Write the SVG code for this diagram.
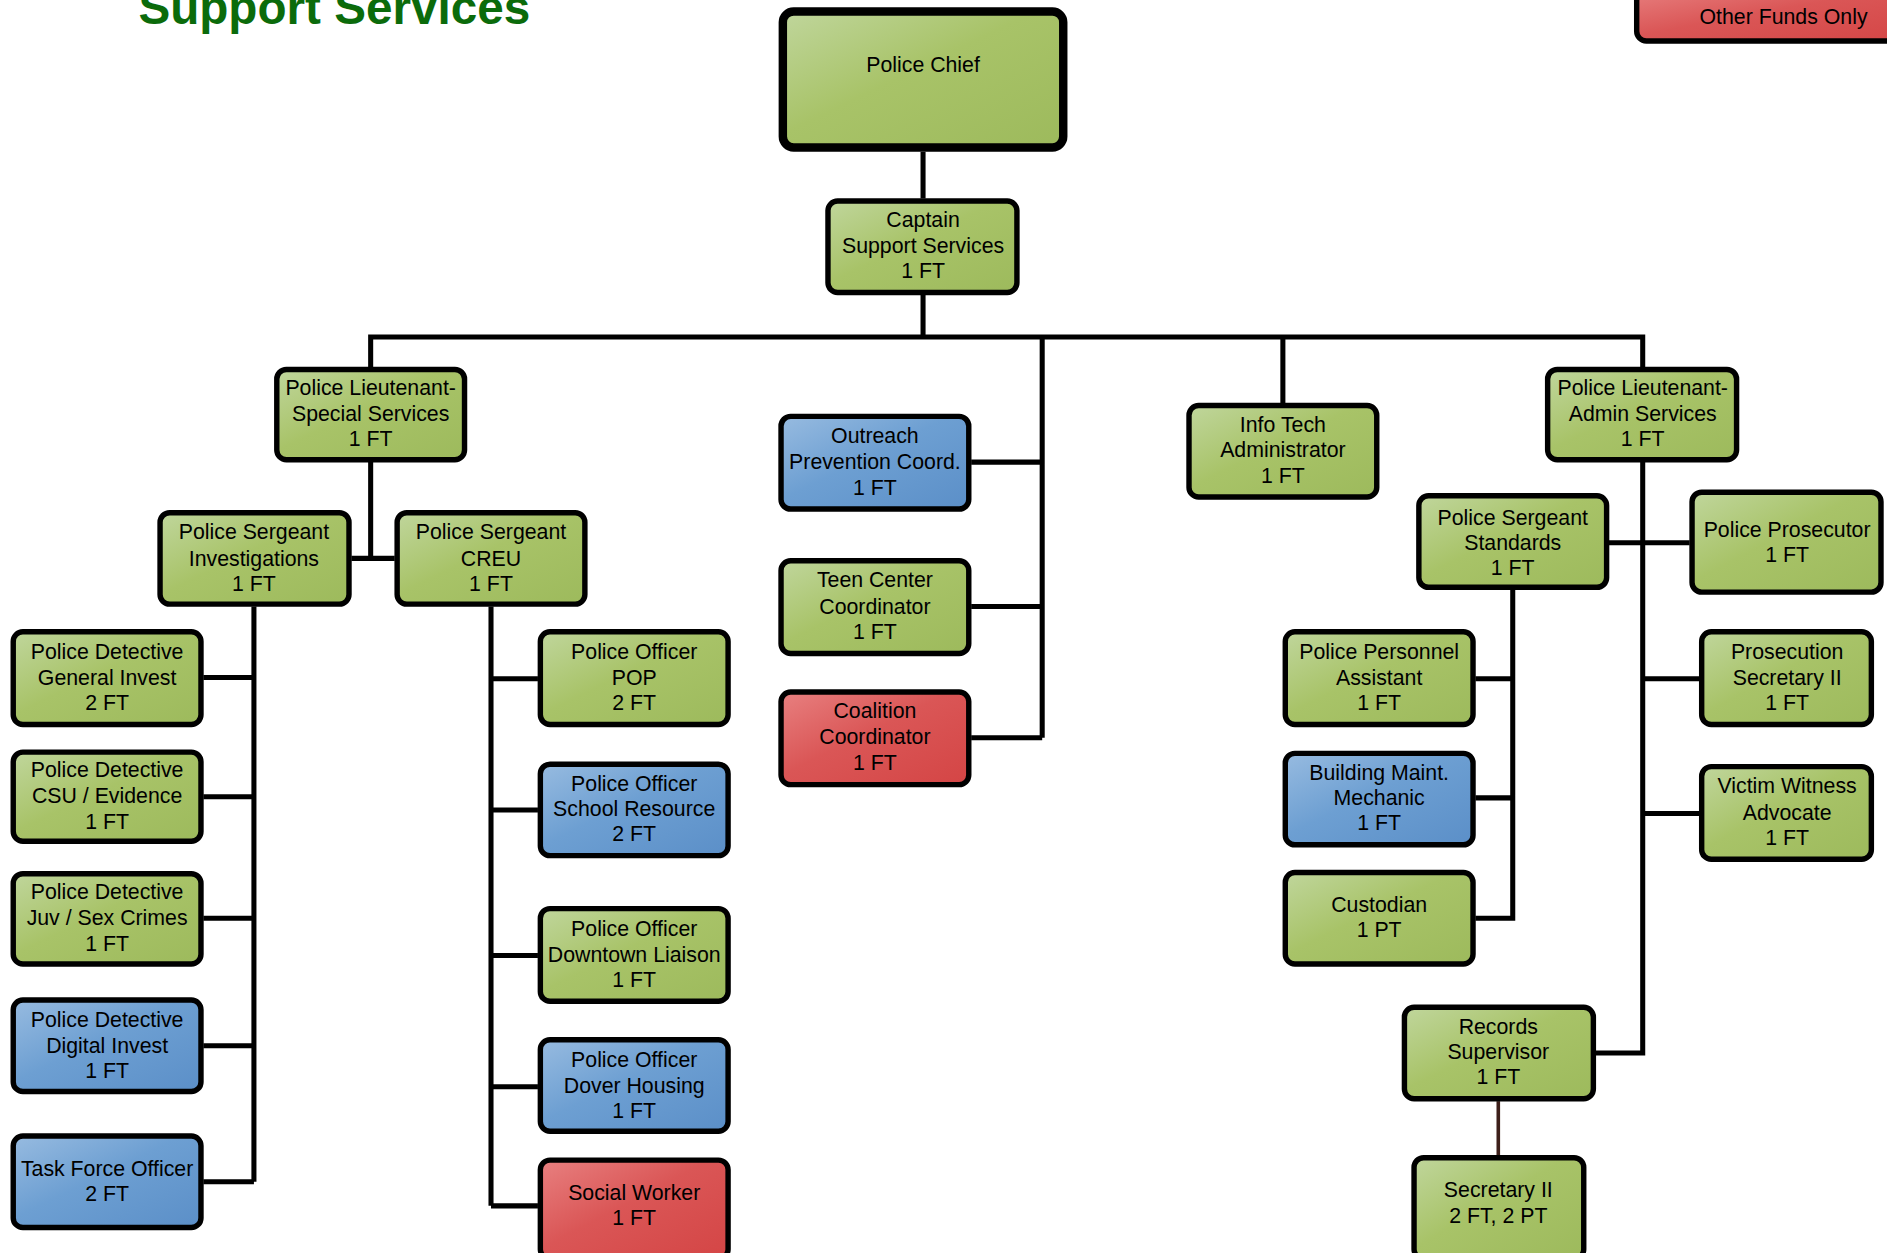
<svg xmlns="http://www.w3.org/2000/svg" width="1887" height="1253" viewBox="0 0 1887 1253">
<defs>
<linearGradient id="gG" x1="0" y1="0" x2="1" y2="1"><stop offset="0" stop-color="#c0d69c"/><stop offset="0.45" stop-color="#a8c368"/><stop offset="1" stop-color="#9dba5c"/></linearGradient>
<linearGradient id="gB" x1="0" y1="0" x2="1" y2="1"><stop offset="0" stop-color="#97bbe0"/><stop offset="0.45" stop-color="#6d9fd2"/><stop offset="1" stop-color="#5b8fc8"/></linearGradient>
<linearGradient id="gR" x1="0" y1="0" x2="1" y2="1"><stop offset="0" stop-color="#e88080"/><stop offset="0.45" stop-color="#da5656"/><stop offset="1" stop-color="#d44545"/></linearGradient>
<style>
.n{stroke:#000;stroke-width:4.5}
.g{fill:url(#gG)}
.b{fill:url(#gB)}
.r{fill:url(#gR)}
.t{font-family:"Liberation Sans",Arial,sans-serif;font-size:17.7px;fill:#000;text-anchor:middle}
.c{fill:none;stroke:#000;stroke-width:4.2}
</style>
</defs>
<rect width="1887" height="1253" fill="#fff"/>
<g transform="scale(1.20345)">
<text x="115" y="20" style="font-family:'Liberation Sans',Arial,sans-serif;font-size:39.6px;font-weight:bold;fill:#0b6b0b">Support Services</text>
<g id="connectors">
<path class="c" d="M767 126V165M767 245V280M308 305V280H1365V305M866 280V613M807 384H866M807 504H866M807 613H866M1066 280V335"/>
<path class="c" d="M308 384V464M292 464H328"/>
<path class="c" d="M211 504V982M169 563H211M169 662H211M169 763H211M169 869H211M169 982H211"/>
<path class="c" d="M408 504V1002M408 564H447M408 673H447M408 794H447M408 903H447M408 1002H447"/>
<path class="c" d="M1365 384V875H1326M1337 451H1404M1365 564H1412M1365 676H1412"/>
<path class="c" d="M1257 490V763H1226M1226 564H1257M1226 663H1257"/>
<path d="M1245 915V960" fill="none" stroke="#3d1f1a" stroke-width="3"/>
</g>
<g id="legend"><rect class="n r" x="1360" y="-10" width="240" height="44" rx="8"/><text class="t" x="1482" y="20">Other Funds Only</text></g>
<g id="chief"><rect class="g" x="650.5" y="9.5" width="233" height="113" rx="9" stroke="#000" stroke-width="7"/><text class="t" x="767" y="60">Police Chief</text></g>
<g id="captain"><rect class="n g" x="688" y="167" width="157" height="76" rx="8"/><text class="t" x="767" y="189">Captain</text><text class="t" x="767" y="210">Support Services</text><text class="t" x="767" y="231">1 FT</text></g>
<g id="lt-special"><rect class="n g" x="230" y="307" width="156" height="75" rx="8"/><text class="t" x="308" y="328">Police Lieutenant-</text><text class="t" x="308" y="350">Special Services</text><text class="t" x="308" y="371">1 FT</text></g>
<g id="outreach"><rect class="n b" x="649" y="346" width="156" height="77" rx="8"/><text class="t" x="727" y="368">Outreach</text><text class="t" x="727" y="390">Prevention Coord.</text><text class="t" x="727" y="411">1 FT</text></g>
<g id="teen"><rect class="n g" x="649" y="466" width="156" height="77" rx="8"/><text class="t" x="727" y="488">Teen Center</text><text class="t" x="727" y="510">Coordinator</text><text class="t" x="727" y="531">1 FT</text></g>
<g id="coalition"><rect class="n r" x="649" y="575" width="156" height="77" rx="8"/><text class="t" x="727" y="597">Coalition</text><text class="t" x="727" y="618">Coordinator</text><text class="t" x="727" y="640">1 FT</text></g>
<g id="infotech"><rect class="n g" x="988" y="337" width="156" height="76" rx="8"/><text class="t" x="1066" y="359">Info Tech</text><text class="t" x="1066" y="380">Administrator</text><text class="t" x="1066" y="401">1 FT</text></g>
<g id="lt-admin"><rect class="n g" x="1286" y="307" width="157" height="75" rx="8"/><text class="t" x="1365" y="328">Police Lieutenant-</text><text class="t" x="1365" y="350">Admin Services</text><text class="t" x="1365" y="371">1 FT</text></g>
<g id="sgt-invest"><rect class="n g" x="133" y="426" width="157" height="76" rx="8"/><text class="t" x="211" y="448">Police Sergeant</text><text class="t" x="211" y="470">Investigations</text><text class="t" x="211" y="491">1 FT</text></g>
<g id="sgt-creu"><rect class="n g" x="330" y="426" width="156" height="76" rx="8"/><text class="t" x="408" y="448">Police Sergeant</text><text class="t" x="408" y="470">CREU</text><text class="t" x="408" y="491">1 FT</text></g>
<g id="det-general"><rect class="n g" x="11" y="525" width="156" height="77" rx="8"/><text class="t" x="89" y="548">Police Detective</text><text class="t" x="89" y="569">General Invest</text><text class="t" x="89" y="590">2 FT</text></g>
<g id="det-csu"><rect class="n g" x="11" y="625" width="156" height="74" rx="8"/><text class="t" x="89" y="646">Police Detective</text><text class="t" x="89" y="667">CSU / Evidence</text><text class="t" x="89" y="689">1 FT</text></g>
<g id="det-juv"><rect class="n g" x="11" y="726" width="156" height="75" rx="8"/><text class="t" x="89" y="747">Police Detective</text><text class="t" x="89" y="769">Juv / Sex Crimes</text><text class="t" x="89" y="790">1 FT</text></g>
<g id="det-digital"><rect class="n b" x="11" y="831" width="156" height="76" rx="8"/><text class="t" x="89" y="853">Police Detective</text><text class="t" x="89" y="875">Digital Invest</text><text class="t" x="89" y="896">1 FT</text></g>
<g id="taskforce"><rect class="n b" x="11" y="944" width="156" height="76" rx="8"/><text class="t" x="89" y="977">Task Force Officer</text><text class="t" x="89" y="998">2 FT</text></g>
<g id="off-pop"><rect class="n g" x="449" y="525" width="156" height="77" rx="8"/><text class="t" x="527" y="548">Police Officer</text><text class="t" x="527" y="569">POP</text><text class="t" x="527" y="590">2 FT</text></g>
<g id="off-school"><rect class="n b" x="449" y="635" width="156" height="76" rx="8"/><text class="t" x="527" y="657">Police Officer</text><text class="t" x="527" y="678">School Resource</text><text class="t" x="527" y="699">2 FT</text></g>
<g id="off-downtown"><rect class="n g" x="449" y="755" width="156" height="77" rx="8"/><text class="t" x="527" y="778">Police Officer</text><text class="t" x="527" y="799">Downtown Liaison</text><text class="t" x="527" y="820">1 FT</text></g>
<g id="off-dover"><rect class="n b" x="449" y="864" width="156" height="76" rx="8"/><text class="t" x="527" y="887">Police Officer</text><text class="t" x="527" y="908">Dover Housing</text><text class="t" x="527" y="929">1 FT</text></g>
<g id="social"><rect class="n r" x="449" y="964" width="156" height="82" rx="8"/><text class="t" x="527" y="997">Social Worker</text><text class="t" x="527" y="1018">1 FT</text></g>
<g id="sgt-standards"><rect class="n g" x="1179" y="412" width="156" height="76" rx="8"/><text class="t" x="1257" y="436">Police Sergeant</text><text class="t" x="1257" y="457">Standards</text><text class="t" x="1257" y="478">1 FT</text></g>
<g id="prosecutor"><rect class="n g" x="1406" y="409" width="157" height="83" rx="8"/><text class="t" x="1485" y="446">Police Prosecutor</text><text class="t" x="1485" y="467">1 FT</text></g>
<g id="personnel"><rect class="n g" x="1068" y="525" width="156" height="77" rx="8"/><text class="t" x="1146" y="548">Police Personnel</text><text class="t" x="1146" y="569">Assistant</text><text class="t" x="1146" y="590">1 FT</text></g>
<g id="maint"><rect class="n b" x="1068" y="626" width="156" height="76" rx="8"/><text class="t" x="1146" y="648">Building Maint.</text><text class="t" x="1146" y="669">Mechanic</text><text class="t" x="1146" y="690">1 FT</text></g>
<g id="custodian"><rect class="n g" x="1068" y="725" width="156" height="76" rx="8"/><text class="t" x="1146" y="758">Custodian</text><text class="t" x="1146" y="779">1 PT</text></g>
<g id="pros-sec"><rect class="n g" x="1414" y="525" width="141" height="77" rx="8"/><text class="t" x="1485" y="548">Prosecution</text><text class="t" x="1485" y="569">Secretary II</text><text class="t" x="1485" y="590">1 FT</text></g>
<g id="victim"><rect class="n g" x="1414" y="637" width="141" height="77" rx="8"/><text class="t" x="1485" y="659">Victim Witness</text><text class="t" x="1485" y="681">Advocate</text><text class="t" x="1485" y="702">1 FT</text></g>
<g id="records"><rect class="n g" x="1167" y="837" width="157" height="76" rx="8"/><text class="t" x="1245" y="859">Records</text><text class="t" x="1245" y="880">Supervisor</text><text class="t" x="1245" y="901">1 FT</text></g>
<g id="secretary"><rect class="n g" x="1175" y="962" width="141" height="84" rx="8"/><text class="t" x="1245" y="995">Secretary II</text><text class="t" x="1245" y="1016">2 FT, 2 PT</text></g>
</g>
</svg>
